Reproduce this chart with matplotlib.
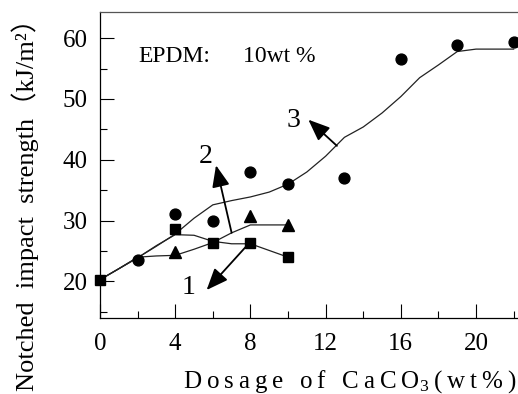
import matplotlib.pyplot as plt
from matplotlib.ticker import MultipleLocator

plt.rcParams['font.family'] = ['Liberation Serif', 'Noto Sans CJK SC']
plt.rcParams['mathtext.fontset'] = 'custom'
plt.rcParams['mathtext.rm'] = 'Liberation Serif'
plt.rcParams['mathtext.it'] = 'Liberation Serif:italic'

# --- measured points (CaCO3 wt%, kJ/m2) ---
sq_x = [0, 4, 6, 8, 10]
sq_y = [20.3, 28.7, 26.4, 26.3, 24.0]
tri_x = [4, 8, 10]
tri_y = [24.8, 30.8, 29.3]
dot_x = [2, 4, 6, 8, 10, 13, 16, 19, 22]
dot_y = [23.6, 31.1, 30.0, 38.0, 36.1, 37.0, 56.5, 58.9, 59.3]

# --- fitted curves 1, 2, 3 ---
fit1_x = [0, 1, 2, 3, 4, 5, 6, 7, 8, 9, 10]
fit1_y = [20.3, 22.1, 23.9, 25.9, 27.7, 27.6, 26.6, 26.2, 26.2, 25.1, 24.0]
fit2_x = [0, 1, 2, 3, 4, 5, 6, 7, 8, 9, 10]
fit2_y = [20.3, 22.1, 24.0, 24.2, 24.3, 25.3, 26.4, 28.0, 29.3, 29.3, 29.3]
fit3_x = [0, 1, 2, 3, 4, 5, 6, 7, 8, 9, 10, 11, 12, 13, 14, 15, 16, 17, 18, 19, 20, 21, 22]
fit3_y = [20.3, 22.1, 23.9, 25.8, 27.8, 30.4, 32.6, 33.3, 33.9, 34.7, 36.0, 38.0, 40.6,
          43.7, 45.4, 47.7, 50.4, 53.5, 55.6, 57.8, 58.2, 58.2, 58.2]

# arrows: label, label pos, tail, head
arrows = [
    ('1', (4.7, 19.0), (7.9, 26.2), (5.67, 18.6)),
    ('2', (5.6, 40.5), (7.0, 28.0), (6.17, 39.1)),
    ('3', (10.3, 46.5), (12.6, 42.3), (11.08, 46.6)),
]

fig = plt.figure(figsize=(5.18, 3.94), dpi=100)
ax = fig.add_axes([100 / 518, 76 / 394, 418 / 518, 306 / 394])

for fx, fy in [(fit1_x, fit1_y), (fit2_x, fit2_y), (fit3_x, fit3_y)]:
    ax.plot(fx, fy, color='#222222', lw=0.9)

ax.plot(dot_x, dot_y, 'o', color='k', ms=7.8, ls='none', clip_on=False)
ax.plot(tri_x, tri_y, '^', color='k', ms=8, ls='none', clip_on=False)
ax.plot(sq_x, sq_y, 's', color='k', ms=7, ls='none', clip_on=False)

for lab, lpos, tail, head in arrows:
    ax.annotate('', xy=head, xytext=tail,
                arrowprops=dict(arrowstyle='-|>,head_length=1.1,head_width=0.45',
                                color='k', lw=1.3, mutation_scale=12,
                                shrinkA=0, shrinkB=0))
    ax.text(lpos[0], lpos[1], lab, fontsize=20, ha='center', va='center')

ax.text(2.05, 56.1, 'EPDM:', fontsize=17, va='baseline')
ax.text(7.6, 56.1, '10wt %', fontsize=17, va='baseline')

ax.set_xlim(0, 22.23)
ax.set_ylim(14.0, 64.3)
ax.xaxis.set_major_locator(MultipleLocator(4))
ax.xaxis.set_minor_locator(MultipleLocator(2))
ax.yaxis.set_major_locator(MultipleLocator(10))
ax.yaxis.set_minor_locator(MultipleLocator(5))
ax.set_yticks([20, 30, 40, 50, 60])
ax.tick_params(which='both', direction='in', labelsize=18, width=0.8)
ax.tick_params(which='major', length=10)
ax.tick_params(which='minor', length=5)
ax.tick_params(axis='y', pad=9)
ax.tick_params(axis='x', pad=11)

ax.spines['right'].set_visible(False)
for s in ['left', 'top', 'bottom']:
    ax.spines[s].set_linewidth(0.9)
ax.spines['top'].set_color('#555555')

ax.set_xlabel('D\u2009o\u2009s\u2009a\u2009g\u2009e\u2009 \u2009o\u2009f\u2009 \u2009C\u2009a\u2009C\u2009O$_3$\u2009(\u2009w\u2009t\u2009%\u2009)',
              fontsize=18, va='baseline')
ax.xaxis.set_label_coords(0.598, -0.229)
ax.set_ylabel('Notched  impact  strength（kJ/m²）', fontsize=19, va='center')
ax.yaxis.set_label_coords(-0.18, 0.39)

fig.savefig('out.png', dpi=100)
